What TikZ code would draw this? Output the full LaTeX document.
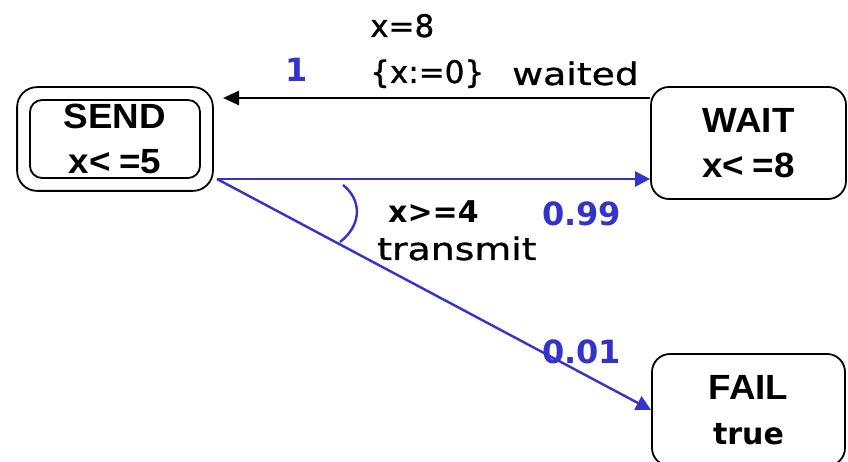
\documentclass[tikz,border=0pt]{standalone}
\usepackage{fontspec}
\setmainfont{DejaVu Sans}
\newfontfamily\titlefont{Liberation Sans}[FakeStretch=1.05]
\newfontfamily\labelfont{DejaVu Sans}[FakeBold=1.0]
\newfontfamily\widefont{DejaVu Sans}[FakeStretch=1.22,FakeBold=1.0]
\usetikzlibrary{arrows.meta,fit}
\definecolor{edgeblue}{RGB}{51,51,204}
\tikzset{
  statebox/.style={draw, line width=1.8pt, rounded corners=18pt, align=center, inner sep=0pt,
    font=\fontsize{35}{45}\selectfont\titlefont\bfseries},
  lbl/.style={inner sep=0pt, anchor=base west, font=\fontsize{31}{36}\selectfont\labelfont},
  blbl/.style={inner sep=0pt, anchor=base west, font=\fontsize{30}{36}\selectfont\bfseries},
  problbl/.style={inner sep=0pt, anchor=base west, text=edgeblue, font=\fontsize{32}{36}\selectfont\bfseries},
  blackarrow/.style={line width=2.6pt, -{Triangle[length=16pt,width=14pt]}},
  bluearrow/.style={line width=2.4pt, draw=edgeblue, -{Triangle[length=15pt,width=15pt]}, fill=edgeblue},
  blueline/.style={line width=2.4pt, draw=edgeblue},
}
\begin{document}
\begin{tikzpicture}[x=1pt,y=-1pt]
\clip (0,0) rectangle (848,462);
\fill[white] (0,0) rectangle (848,462);
% states
\node[statebox, minimum width=170pt, minimum height=78pt, rounded corners=12pt] (SEND) at (115,139) {SEND\\x<\kern9pt=5};
\node[draw, line width=1.8pt, rounded corners=20pt, fit=(SEND), inner sep=12pt] (SENDout) {};
\node[statebox, minimum width=195pt, minimum height=112pt] (WAIT) at (748.5,143) {WAIT\\x<\kern9pt=8};
\node[statebox, minimum width=193pt, minimum height=112pt] (FAIL) at (748.5,410) {FAIL\\{\fontsize{30}{36}\selectfont\rmfamily\bfseries true}};
% connector coordinates
\coordinate (st) at (223,98);
\coordinate (sb) at (217,179);
% edges
\draw[blackarrow] (WAIT.west |- st) -- (st);
\draw[bluearrow] (sb) -- (WAIT.west |- sb);
\draw[bluearrow] (sb) -- (FAIL.west);
\coordinate (arcA) at (343,185);
\coordinate (arcB) at (340,242);
\draw[blueline] (arcA) .. controls (362,200) and (362,225) .. (arcB);
% labels
\node[lbl] (g1) at (370,37) {x=8};
\node[lbl] (r1) at (370,83) {\{x:=0\}};
\node[lbl] (a1) at (512,85) {\widefont waited};
\node[problbl, anchor=base] (p1) at (297,82) {1};
\node[blbl] (g2) at (388,223) {x>=4};
\node[problbl] (p2) at (542,226) {0.99};
\node[lbl] (a2) at (377,260) {\widefont transmit};
\node[problbl] (p3) at (542,363) {0.01};
\end{tikzpicture}
\end{document}
